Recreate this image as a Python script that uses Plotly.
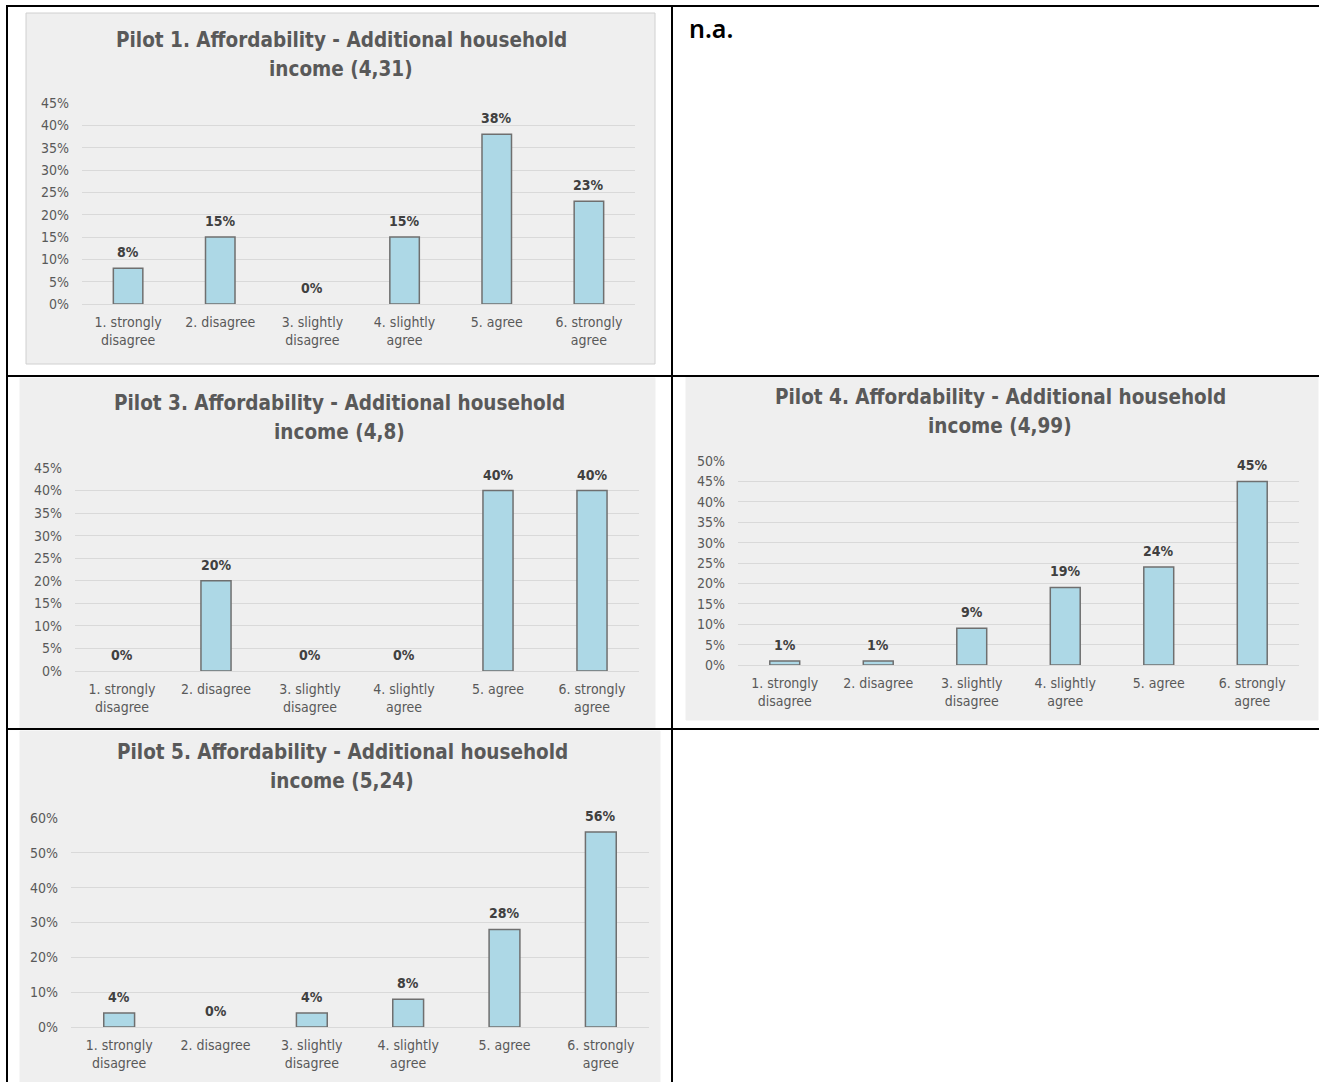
import plotly.graph_objects as go

W, H = 1319, 1082

# Response scale shared by every pilot
categories = [
    "1. strongly<br>disagree",
    "2. disagree",
    "3. slightly<br>disagree",
    "4. slightly<br>agree",
    "5. agree",
    "6. strongly<br>agree",
]

# Share of respondents per answer
pilot1_values = [0.08, 0.15, 0.00, 0.15, 0.38, 0.23]
pilot3_values = [0.00, 0.20, 0.00, 0.00, 0.40, 0.40]
pilot4_values = [0.01, 0.01, 0.09, 0.19, 0.24, 0.45]
pilot5_values = [0.04, 0.00, 0.04, 0.08, 0.28, 0.56]

pilot1_title = ["Pilot 1. Affordability - Additional household", "income (4,31)"]
pilot3_title = ["Pilot 3. Affordability - Additional household", "income (4,8)"]
pilot4_title = ["Pilot 4. Affordability - Additional household", "income (4,99)"]
pilot5_title = ["Pilot 5. Affordability - Additional household", "income (5,24)"]

na_text = "n.a."

FONT = "DejaVu Sans Condensed, Liberation Sans Narrow, Arial Narrow, sans-serif"
PANEL_BG = "#efefef"
BAR_FILL = "#add8e6"
BAR_LINE = "#6f6f6f"
GRID = "#d9d9d9"
TEXT = "#595959"
LABEL = "#404040"


def px_x(x):
    return x / W


def px_y(y):
    return 1 - y / H


# Layout of each chart in pixel space
panels = [
    dict(values=pilot1_values, title=pilot1_title, ymax=0.45, dtick=0.05,
         plot=(82, 635, 103, 304), box=(26, 655, 13, 364), title_xy=(341, 40), border=True),
    dict(values=pilot3_values, title=pilot3_title, ymax=0.45, dtick=0.05,
         plot=(75, 639, 468, 671), box=(20, 655, 378, 728), title_xy=(339, 403), border=False),
    dict(values=pilot4_values, title=pilot4_title, ymax=0.50, dtick=0.05,
         plot=(738, 1299, 461, 665), box=(686, 1318, 377, 720), title_xy=(1000, 397), border=False),
    dict(values=pilot5_values, title=pilot5_title, ymax=0.60, dtick=0.10,
         plot=(71, 649, 818, 1027), box=(20, 660, 731, 1082), title_xy=(342, 752), border=False),
]
TITLE_LINE_GAP = 29

fig = go.Figure()
shapes = []
annotations = []
layout_axes = {}

for i, p in enumerate(panels, start=1):
    xa = "x" if i == 1 else f"x{i}"
    ya = "y" if i == 1 else f"y{i}"
    x0, x1, ytop, ybot = p["plot"]

    fig.add_trace(go.Bar(
        x=categories,
        y=p["values"],
        xaxis=xa,
        yaxis=ya,
        marker=dict(
            color=BAR_FILL,
            line=dict(color=BAR_LINE, width=[1.5 if v > 0 else 0 for v in p["values"]]),
        ),
        cliponaxis=False,
        showlegend=False,
        hoverinfo="skip",
    ))

    # value labels sitting above each bar
    for cat, val in zip(categories, p["values"]):
        annotations.append(dict(
            text=f"{val:.0%}", xref=xa, yref=ya, x=cat, y=val,
            yshift=16, xanchor="center", yanchor="middle", showarrow=False,
            font=dict(family=FONT, size=14, color=LABEL, weight="bold"),
        ))

    xkey = "xaxis" if i == 1 else f"xaxis{i}"
    ykey = "yaxis" if i == 1 else f"yaxis{i}"
    layout_axes[xkey] = dict(
        domain=[px_x(x0), px_x(x1)],
        anchor=ya,
        type="category",
        automargin=False,
        showgrid=False,
        showline=False,
        zeroline=False,
        ticks="",
        ticklabelstandoff=8,
        tickfont=dict(family=FONT, size=14, color=TEXT),
        fixedrange=True,
    )
    layout_axes[ykey] = dict(
        domain=[px_y(ybot), px_y(ytop)],
        anchor=xa,
        automargin=False,
        range=[0, p["ymax"] + 1e-6],
        dtick=p["dtick"],
        tick0=0,
        tickformat=".0%",
        showgrid=True,
        gridcolor=GRID,
        gridwidth=1,
        zeroline=True,
        zerolinecolor=GRID,
        zerolinewidth=1,
        showline=False,
        ticks="",
        ticklabelstandoff=12,
        tickfont=dict(family=FONT, size=14, color=TEXT),
        fixedrange=True,
    )

    bx0, bx1, by0, by1 = p["box"]
    shapes.append(dict(
        type="rect", xref="paper", yref="paper", layer="below",
        x0=px_x(bx0), x1=px_x(bx1), y0=px_y(by1), y1=px_y(by0),
        fillcolor=PANEL_BG,
        line=dict(color="#d0d0d0" if p["border"] else PANEL_BG, width=1),
    ))

    tx, ty = p["title_xy"]
    for k, line in enumerate(p["title"]):
        annotations.append(dict(
            text=line, xref="paper", yref="paper",
            x=px_x(tx), y=px_y(ty + k * TITLE_LINE_GAP),
            xanchor="center", yanchor="middle",
            showarrow=False,
            font=dict(family=FONT, size=20.5, color=TEXT, weight="bold"),
        ))

# Table grid around the charts
table_lines = [
    (6, 6, W, 6),
    (7, 6, 7, H),
    (672, 6, 672, H),
    (6, 376, W, 376),
    (6, 729, W, 729),
]
for x0, y0, x1, y1 in table_lines:
    shapes.append(dict(
        type="line", xref="paper", yref="paper", layer="above",
        x0=px_x(x0), y0=px_y(y0), x1=px_x(x1), y1=px_y(y1),
        line=dict(color="black", width=2),
    ))

annotations.append(dict(
    text=na_text, xref="paper", yref="paper",
    x=px_x(687), y=px_y(28), xanchor="left", yanchor="middle",
    showarrow=False,
    font=dict(family="Noto Sans, Open Sans, sans-serif", size=25, color="black", weight=600),
))

fig.update_layout(
    width=W,
    height=H,
    margin=dict(l=0, r=0, t=0, b=0, pad=0),
    paper_bgcolor="white",
    plot_bgcolor="rgba(0,0,0,0)",
    bargap=0.68,
    shapes=shapes,
    annotations=annotations,
    **layout_axes,
)

fig.write_html(
    "out.html",
    post_script="document.body.style.margin='0';document.body.style.overflow='hidden';",
)
